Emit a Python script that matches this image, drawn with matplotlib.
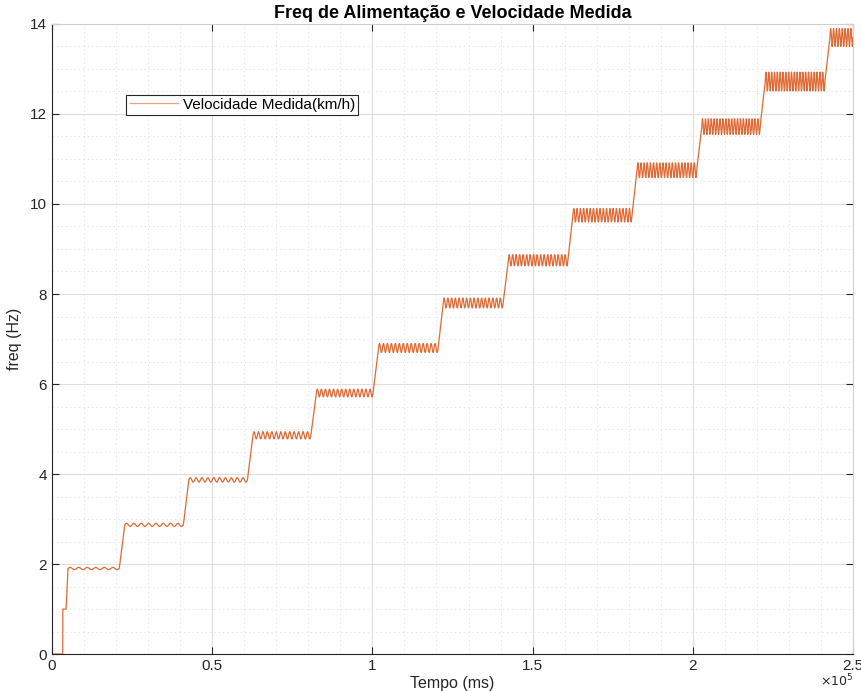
import numpy as np
import matplotlib.pyplot as plt
from matplotlib.ticker import MultipleLocator

# step data (time in ms, speed in km/h)
step_t = [3400, 4400, 21000, 41000, 61000, 80800, 100200, 120500, 140800,
          161000, 181000, 201200, 221000, 241200]
rise_ms = [0, 600, 1700, 1700, 1700, 1700, 1700, 1600, 1600,
           1600, 1600, 1600, 1600, 1600]
levels = [1.0, 1.9, 2.87, 3.87, 4.86, 5.8, 6.8, 7.8, 8.75,
          9.75, 10.75, 11.72, 12.72, 13.7]
ripple = [0.0, 0.05, 0.07, 0.1, 0.16, 0.17, 0.2, 0.22, 0.25,
          0.3, 0.33, 0.35, 0.42, 0.4]
cycles = [0, 6, 8, 10, 13, 14, 15, 16, 17, 18, 19, 20, 21, 8]
t_end = 250000

xticks = [0, 50000, 100000, 150000, 200000, 250000]
xticklabels = ['0', '0.5', '1', '1.5', '2', '2.5']
yticks = [0, 2, 4, 6, 8, 10, 12, 14]

# build the trace
t = np.arange(0, t_end + 1, 40.0)
v = np.zeros_like(t)
ends = step_t[1:] + [t_end]
for k in range(len(step_t)):
    prev = levels[k - 1] if k > 0 else 0.0
    t0 = step_t[k]
    t1 = t0 + rise_ms[k]
    m_rise = (t >= t0) & (t < t1)
    if rise_ms[k] > 0:
        v[m_rise] = prev + (levels[k] - prev) * (t[m_rise] - t0) / rise_ms[k]
    m_flat = (t >= t1) & (t <= ends[k])
    v[m_flat] = levels[k]
    if cycles[k] > 0:
        period = (ends[k] - t1) / cycles[k]
        v[m_flat] += 0.5 * ripple[k] * np.sin(2 * np.pi * (t[m_flat] - t1) / period)

plt.rcParams['font.family'] = ['Liberation Sans', 'DejaVu Sans']

fig = plt.figure(figsize=(8.62, 6.91), dpi=100)
ax = fig.add_axes([0.0603, 0.0535, 0.9293, 0.9118])

ax.plot(t, v, color='#E06A35', lw=0.9, label='Velocidade Medida(km/h)')

ax.set_xlim(0, t_end)
ax.set_ylim(0, 14)
ax.set_xticks(xticks)
ax.set_xticklabels(xticklabels)
ax.set_yticks(yticks)
ax.xaxis.set_minor_locator(MultipleLocator(10000))
ax.yaxis.set_minor_locator(MultipleLocator(0.5))

ax.grid(which='major', color='#dedede', lw=0.8, ls='-')
ax.grid(which='minor', color='#e6e6e6', lw=0.7, ls=(0, (1.5, 3)))
ax.set_axisbelow(True)

ax.tick_params(which='major', direction='in', length=5, width=0.8,
               colors='#262626', labelsize=11, top=True, right=True)
ax.tick_params(which='minor', length=0)
for s in ['left', 'bottom']:
    ax.spines[s].set_color('#262626')
for s in ['top', 'right']:
    ax.spines[s].set_color('#d0d0d0')
for s in ax.spines.values():
    s.set_linewidth(0.8)

ax.set_title('Freq de Alimentação e Velocidade Medida', fontsize=13,
             fontweight='bold', pad=4)
ax.set_xlabel('Tempo (ms)', fontsize=11.5, labelpad=2, color='#262626')
ax.set_ylabel('freq (Hz)', fontsize=11.5, labelpad=6, color='#262626')
ax.text(1.0, -0.03, r'$\times10^5$', transform=ax.transAxes, ha='right',
        va='top', fontsize=9, color='#262626')

leg = ax.legend(loc='upper left', bbox_to_anchor=(0.093, 0.888), fontsize=11,
                frameon=True, fancybox=False, framealpha=1, borderpad=0.2,
                handlelength=3.2, handletextpad=0.3, borderaxespad=0)
leg.get_frame().set_edgecolor('#262626')
leg.get_frame().set_linewidth(0.8)
leg.get_lines()[0].set_color('#F0A080')

fig.savefig('out.png', dpi=100)
